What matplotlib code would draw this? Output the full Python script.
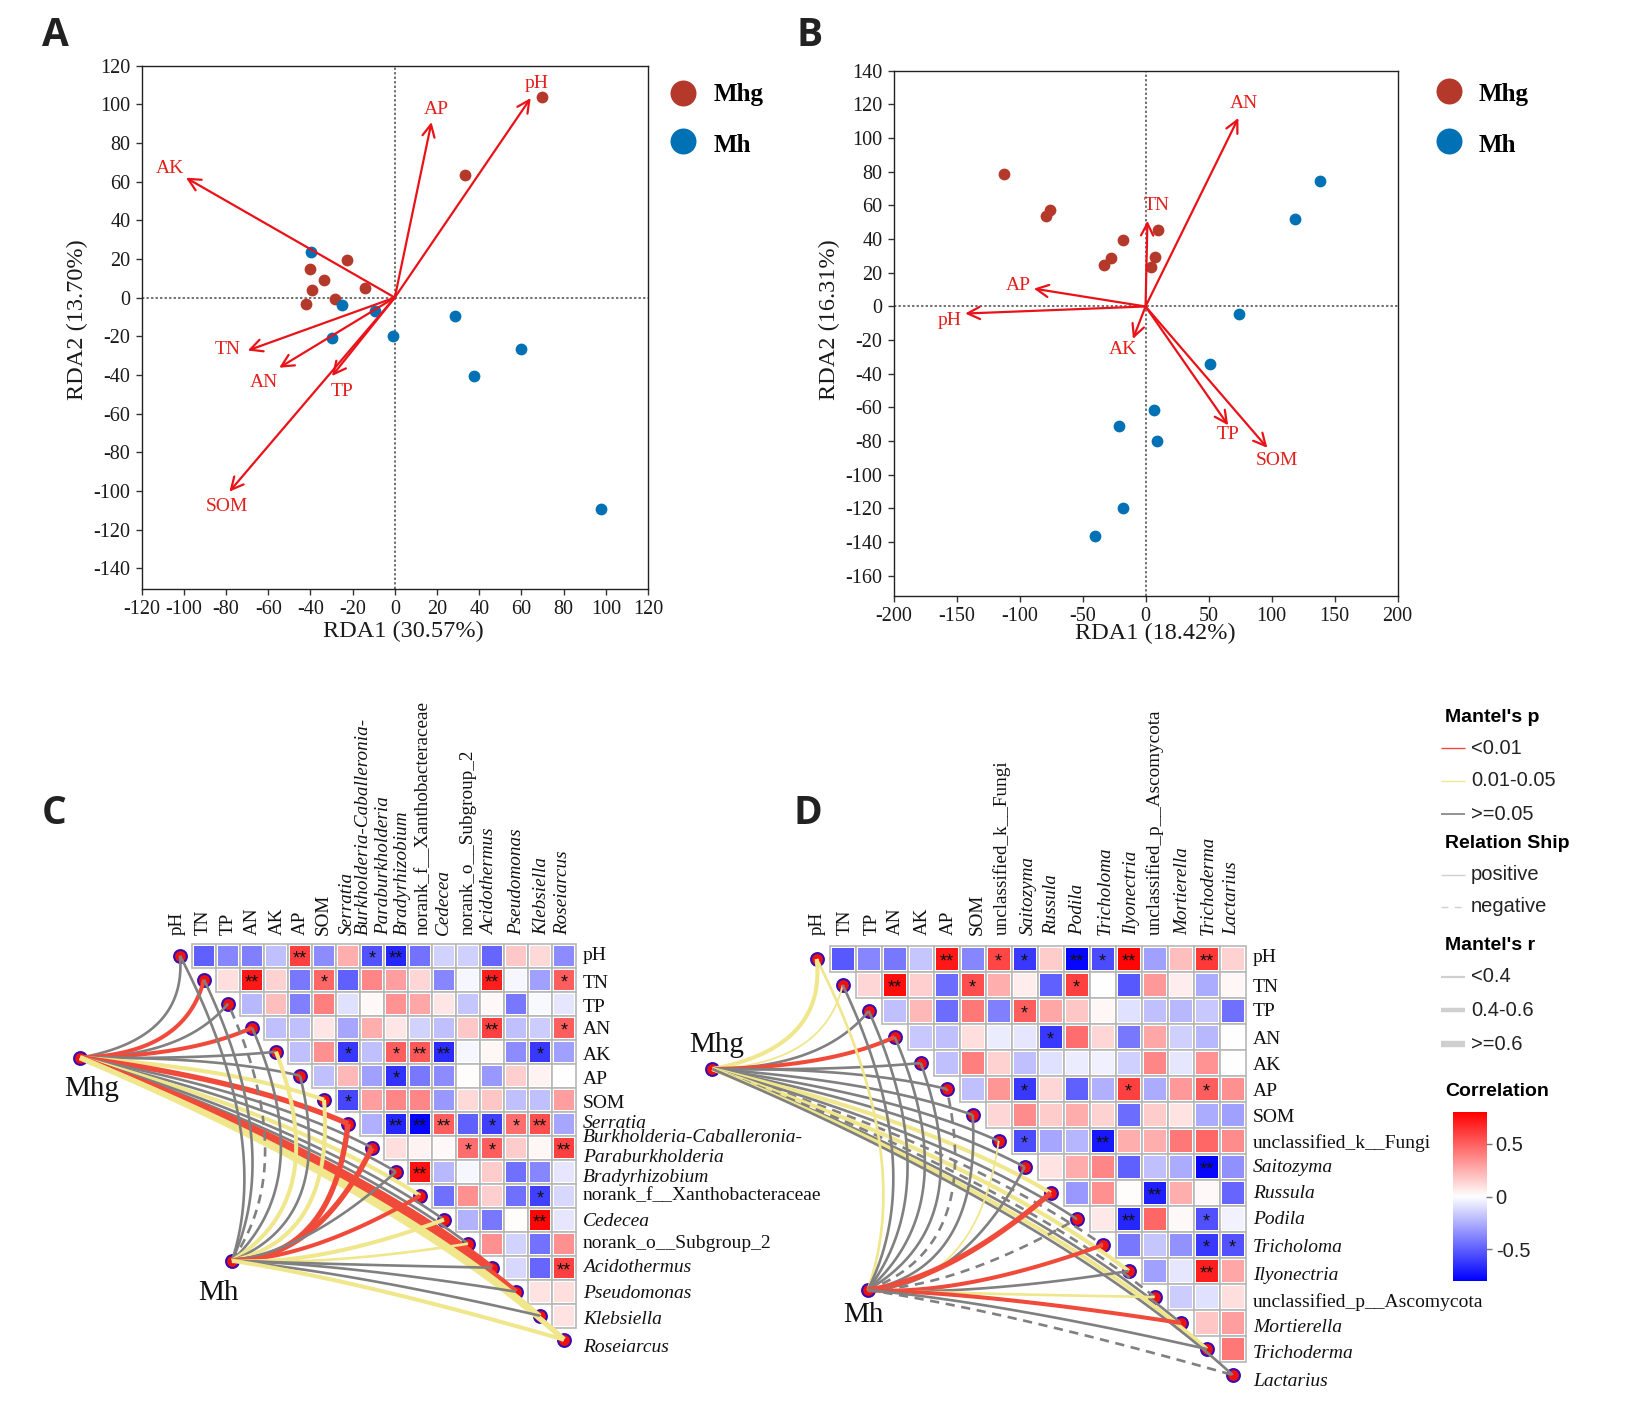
import numpy as np
import matplotlib
import matplotlib.pyplot as plt
from matplotlib.colors import LinearSegmentedColormap, Normalize
from matplotlib.patches import Rectangle

matplotlib.use('agg')
plt.rcParams['font.family'] = ['Liberation Serif', 'DejaVu Serif']
plt.rcParams['axes.unicode_minus'] = False

W, H = 1633, 1418

# RDA panel A
a_mhg_x = [69.7, 33.5, -22.7, -40.0, -33.7, -14.2, -39.4, -28.2, -42.2]
a_mhg_y = [103.6, 63.2, 19.2, 14.7, 9.0, 5.1, 3.8, -0.6, -3.2]
a_mh_x = [-39.7, -25.2, -9.6, -29.8, -0.7, 28.7, 60.0, 37.4, 97.5]
a_mh_y = [23.7, -4.1, -6.8, -20.9, -19.7, -9.4, -26.5, -40.8, -109.4]
a_env = ['pH', 'AP', 'AK', 'TN', 'AN', 'TP', 'SOM']
a_env_x = [64.4, 17.4, -99.0, -69.7, -54.8, -29.8, -78.4]
a_env_y = [103.2, 90.8, 62.0, -27.4, -36.3, -40.6, -100.4]
a_env_lx = [67.1, 19.7, -106.4, -79.0, -62.0, -25.0, -79.4]
a_env_ly = [110.5, 97.2, 66.9, -27.0, -43.8, -48.5, -108.0]

# RDA panel B
b_mhg_x = [-112.5, -75.6, -78.7, 10.0, -17.7, -27.3, -33.0, 7.3, 4.6]
b_mhg_y = [78.8, 57.5, 53.6, 45.7, 39.3, 28.9, 24.9, 29.1, 23.7]
b_mh_x = [138.6, 118.6, 74.5, 51.4, 6.5, -21.1, 9.2, -17.7, -40.3]
b_mh_y = [74.8, 52.1, -4.4, -34.1, -61.7, -71.1, -80.2, -120.0, -136.3]
b_env = ['AN', 'TN', 'AP', 'pH', 'AK', 'TP', 'SOM']
b_env_x = [73.7, 1.5, -88.7, -143.2, -10.0, 65.6, 96.7]
b_env_y = [112.0, 50.9, 10.6, -4.2, -19.3, -70.6, -84.0]
b_env_lx = [78.0, 9.2, -101.0, -155.5, -18.0, 65.3, 104.4]
b_env_ly = [120.7, 59.8, 12.6, -8.4, -25.7, -76.3, -91.6]

# correlation triangles, row i holds the columns i..15
c_corr = [
    [-.50, -.38, -.40, -.20, .60, -.36, .25, -.54, -.68, -.44, -.14, -.15, -.48, .17, .12, -.36],
    [.10, .72, .14, -.42, .48, -.50, .38, .30, .13, -.38, -.03, .70, -.03, -.30, .50],
    [-.22, .20, -.40, .40, -.10, .02, .34, .28, .08, -.18, .02, -.42, -.02, -.08],
    [-.20, -.20, .08, -.28, .25, .08, -.14, -.20, .17, .60, -.20, -.16, .50],
    [-.20, .35, -.62, -.20, .50, .52, -.66, -.03, .03, -.36, -.62, -.30],
    [-.20, .22, -.30, -.64, -.42, -.36, .01, -.32, .15, .04, .00],
    [-.58, .30, .38, .38, -.32, .12, .18, -.20, -.20, .30],
    [-.25, -.68, -.78, .50, -.50, -.60, .45, .55, -.28],
    [.10, .04, .02, .45, .50, .16, .03, .60],
    [.74, -.22, -.03, .16, -.45, -.38, -.08],
    [-.45, .35, .15, -.45, -.60, -.12],
    [-.24, -.42, .01, .78, -.08],
    [.35, -.14, -.44, .35],
    [-.12, -.48, .60],
    [.09, .10],
    [.09],
]
c_stars = {(0, 4): '**', (0, 7): '*', (0, 8): '**', (1, 2): '**', (1, 5): '*', (1, 12): '**',
           (1, 15): '*', (3, 12): '**', (3, 15): '*', (4, 6): '*', (4, 8): '*', (4, 9): '**',
           (4, 10): '**', (4, 14): '*', (5, 8): '*', (6, 6): '*', (7, 8): '**', (7, 9): '**',
           (7, 10): '**', (7, 12): '*', (7, 13): '*', (7, 14): '**', (8, 11): '*', (8, 12): '*',
           (8, 15): '**', (9, 9): '**', (10, 14): '*', (11, 14): '**', (13, 15): '**'}

d_corr = [
    [-.52, -.38, -.42, -.18, .72, -.38, .58, -.62, .16, -.78, -.56, .78, -.30, .20, .62, .14],
    [.13, .76, .15, -.46, .55, .25, .06, -.50, .60, .00, -.52, .32, .06, -.26, .03],
    [-.20, .22, -.46, .42, -.40, .50, .28, .18, .03, -.10, -.20, -.22, -.17, -.45],
    [-.17, -.20, .10, -.06, -.08, -.62, .45, .13, -.42, .28, -.15, -.22, .00],
    [-.20, .40, .14, -.20, -.10, -.06, -.05, -.15, .38, -.08, .34, .00],
    [-.20, .33, -.62, .13, -.50, -.25, .60, -.26, .32, .50, .35],
    [.13, .36, .16, .26, .14, -.46, .16, .09, -.26, -.30],
    [-.56, -.28, -.23, -.72, .25, .25, .42, .48, .36],
    [.09, .26, .38, -.50, -.20, -.26, -.78, -.35],
    [-.32, .35, .01, -.70, .25, .02, -.48],
    [.07, -.68, .48, .02, -.55, -.04],
    [-.42, -.18, -.34, -.62, -.54],
    [-.30, -.08, .70, .28],
    [-.16, -.10, .10],
    [.18, .30],
    [.42],
]
d_stars = {(0, 4): '**', (0, 6): '*', (0, 7): '*', (0, 9): '**', (0, 10): '*', (0, 11): '**',
           (0, 14): '**', (1, 2): '**', (1, 5): '*', (1, 9): '*', (2, 7): '*', (3, 8): '*',
           (5, 7): '*', (5, 11): '*', (5, 14): '*', (7, 7): '*', (7, 10): '**', (8, 14): '**',
           (9, 12): '**', (10, 11): '**', (10, 14): '*', (11, 14): '*', (11, 15): '*',
           (12, 14): '**'}

# Mantel links, one entry per variable: p class, r class, dashed when negative
c_mhg_p = ['g', 'r', 'g', 'r', 'g', 'g', 'y', 'r', 'g', 'g', 'y', 'g', 'g', 'r', 'r', 'y', 'y']
c_mhg_r = [1, 2, 1, 2, 1, 1, 2, 3, 1, 1, 2, 1, 1, 3, 3, 2, 3]
c_mhg_neg = []
c_mh_p = ['g', 'g', 'g', 'g', 'y', 'g', 'y', 'r', 'r', 'g', 'r', 'y', 'y', 'g', 'g', 'g', 'y']
c_mh_r = [1, 1, 1, 1, 2, 1, 2, 3, 3, 1, 2, 2, 1, 1, 1, 1, 2]
c_mh_neg = [2]
d_mhg_p = ['y', 'y', 'g', 'r', 'g', 'g', 'g', 'g', 'g', 'y', 'g', 'g', 'y', 'g', 'g', 'y', 'g']
d_mhg_r = [2, 0, 1, 2, 1, 1, 1, 1, 1, 2, 1, 1, 2, 1, 1, 2, 1]
d_mhg_neg = [11, 13]
d_mh_p = ['y', 'g', 'g', 'g', 'g', 'g', 'g', 'y', 'g', 'r', 'g', 'r', 'g', 'y', 'r', 'g', 'g']
d_mh_r = [1, 1, 1, 1, 1, 1, 1, 0, 1, 3, 1, 2, 1, 1, 2, 1, 1]
d_mh_neg = [5, 10, 16]

c_labels = ['pH', 'TN', 'TP', 'AN', 'AK', 'AP', 'SOM', 'Serratia', 'Burkholderia-Caballeronia-',
            'Paraburkholderia', 'Bradyrhizobium', 'norank_f__Xanthobacteraceae', 'Cedecea',
            'norank_o__Subgroup_2', 'Acidothermus', 'Pseudomonas', 'Klebsiella', 'Roseiarcus']
c_italic = ['Serratia', 'Burkholderia-Caballeronia-', 'Paraburkholderia', 'Bradyrhizobium',
            'Cedecea', 'Acidothermus', 'Pseudomonas', 'Klebsiella', 'Roseiarcus']
d_labels = ['pH', 'TN', 'TP', 'AN', 'AK', 'AP', 'SOM', 'unclassified_k__Fungi', 'Saitozyma',
            'Russula', 'Podila', 'Tricholoma', 'Ilyonectria', 'unclassified_p__Ascomycota',
            'Mortierella', 'Trichoderma', 'Lactarius']
d_italic = ['Saitozyma', 'Russula', 'Podila', 'Tricholoma', 'Ilyonectria', 'Mortierella',
            'Trichoderma', 'Lactarius']

# label placement on the page, hand placed like the rest of the figure
c_col_x = [177, 203, 228, 252, 277, 300, 323, 347, 363, 384, 402, 423, 443, 468, 490, 517, 542, 563]
c_row_y = [956, 984, 1007, 1030, 1055, 1079, 1103, 1123, 1138, 1158, 1178, 1196, 1221, 1244, 1268,
           1294, 1320, 1348]
d_col_x = [817, 845, 872, 895, 922, 948, 977, 1002, 1028, 1052, 1078, 1105, 1132, 1155, 1183, 1208,
           1232]
d_row_y = [958, 987, 1011, 1039, 1066, 1091, 1118, 1143, 1168, 1194, 1220, 1248, 1275, 1302, 1327,
           1353, 1381]

link_colors = {'r': '#F04A3A', 'y': '#F0E68C', 'g': '#808080'}
link_widths = [1.3, 1.9, 2.9, 3.9]
cmap = LinearSegmentedColormap.from_list('corr', ['#0000FF', '#FFFFFF', '#FF0000'])
norm = Normalize(-0.8, 0.8)

# bend of the links against the direction of the chord
mhg_angle = [-31, -5, 2, 10, 20, 32, 47]
mhg_bend = [-.08, -.06, .03, .10, .22, .36, .45]
mh_angle = [-15, -6, -2, 4, 11, 19, 28, 39, 50, 60, 70, 78, 85, 90, 96, 101]
mh_bend = [-.03, -.03, 0, .05, .10, .12, .14, .29, .42, .42, .42, .40, .34, .28, .22, .19]

fig = plt.figure(figsize=(W / 100, H / 100), dpi=100, facecolor='white')
page = fig.add_axes([0, 0, 1, 1])
page.set_xlim(0, W)
page.set_ylim(H, 0)
page.axis('off')


def px_axes(left, top, right, bottom):
  return fig.add_axes([left / W, 1 - bottom / H, (right - left) / W, (bottom - top) / H])


def draw_rda(ax, mhg, mh, env, xlim, ylim, xticks, yticks, xlabel, ylabel, xl_pos, yl_pos):
  ax.set_xlim(*xlim)
  ax.set_ylim(*ylim)
  ax.set_xticks(xticks)
  ax.set_yticks(yticks)
  ax.tick_params(labelsize=14.5, length=4, width=1, pad=4, color='#333333', labelcolor='#1a1a1a',
                 labelfontfamily='Liberation Serif')
  for s in ax.spines.values():
    s.set_linewidth(1)
    s.set_color('#222222')
  ax.axhline(0, color='#666666', lw=1.3, dashes=(1.3, 1.2), zorder=1)
  ax.axvline(0, color='#666666', lw=1.3, dashes=(1.3, 1.2), zorder=1)
  ax.scatter(mhg[0], mhg[1], s=72, color='#B5392A', linewidths=0, zorder=3)
  ax.scatter(mh[0], mh[1], s=72, color='#0071B5', linewidths=0, zorder=3)
  for name, x, y, lx, ly in zip(*env):
    ax.annotate('', xy=(x, y), xytext=(0, 0),
                arrowprops=dict(arrowstyle='->', color='#EA1218', lw=1.6, mutation_scale=22,
                                shrinkA=0, shrinkB=0), zorder=4)
    ax.text(lx, ly, name, color='#E3201C', fontsize=14, ha='center', va='center', zorder=5)
  ax.set_xlabel(xlabel, fontsize=17.5, color='#1a1a1a')
  ax.set_ylabel(ylabel, fontsize=17.5, color='#1a1a1a')
  ax.xaxis.set_label_coords(*xl_pos)
  ax.yaxis.set_label_coords(*yl_pos)
  ax.xaxis.label.set_va('center')
  ax.yaxis.label.set_va('center')


ax_a = px_axes(141.6, 65.6, 648, 588.5)
draw_rda(ax_a, (a_mhg_x, a_mhg_y), (a_mh_x, a_mh_y),
         (a_env, a_env_x, a_env_y, a_env_lx, a_env_ly),
         (-120, 120), (-150.5, 120), np.arange(-120, 121, 20), np.arange(-140, 121, 20),
         'RDA1 (30.57%)', 'RDA2 (13.70%)', (0.516, -0.082), (-0.127, 0.515))

ax_b = px_axes(893.6, 70.8, 1397.5, 596)
draw_rda(ax_b, (b_mhg_x, b_mhg_y), (b_mh_x, b_mh_y),
         (b_env, b_env_x, b_env_y, b_env_lx, b_env_ly),
         (-200, 200), (-172, 140), np.arange(-200, 201, 50), np.arange(-160, 141, 20),
         'RDA1 (18.42%)', 'RDA2 (16.31%)', (0.519, -0.072), (-0.128, 0.527))

# panel letters and the group keys next to the RDA plots
for letter, x, y in [('A', 55, 35), ('B', 810, 35), ('C', 54, 814), ('D', 808, 814)]:
  page.text(x, y, letter, family='Open Sans', weight='bold', fontsize=28, color='#222222',
            ha='center', va='center')
for x0, tx, ys, text_ys in [(683, 714, (93, 141), (95, 145)), (1449, 1479, (91, 141), (94, 145))]:
  for name, col, y, ty in zip(['Mhg', 'Mh'], ['#B5392A', '#0071B5'], ys, text_ys):
    page.scatter([x0], [y], s=350, color=col, linewidths=0)
    page.text(tx, ty, name, fontsize=18, weight='bold', ha='left', va='center')


def draw_link(hub, node, p, r, neg, angles, bends, along):
  d = np.array(node) - np.array(hub)
  bend = np.interp(np.degrees(np.arctan2(-d[1], d[0])), angles, bends)
  ctrl = np.array(hub) + along * d + bend * np.array([-d[1], d[0]])
  t = np.linspace(0, 1, 80)[:, None]
  pts = (1 - t) ** 2 * np.array(hub) + 2 * t * (1 - t) * ctrl + t ** 2 * np.array(node)
  line, = page.plot(pts[:, 0], pts[:, 1], color=link_colors[p], lw=link_widths[r], zorder=4,
                    solid_capstyle='butt')
  if neg:
    line.set_dashes((3.5, 2.5))


def draw_mantel(corr, stars, x0, y0, pitch, labels, italic, col_x, col_y, row_x, row_y,
                hub_mhg, hub_mh, mhg_links, mh_links, hub_text):
  n = len(corr)
  inner = pitch - 4
  for i, row in enumerate(corr):
    for k, v in enumerate(row):
      j = i + k
      cx = x0 + pitch * (j + 1)
      cy = y0 + pitch * i
      page.add_patch(Rectangle((cx - pitch / 2, cy - pitch / 2), pitch, pitch, fc='white',
                               ec='#B8B8B8', lw=1.2, zorder=2))
      page.add_patch(Rectangle((cx - inner / 2, cy - inner / 2), inner, inner,
                               fc=cmap(norm(v)), ec='none', zorder=2.5))
      if (i, j) in stars:
        page.text(cx, cy + 3, stars[(i, j)], family='Liberation Sans', fontsize=13, color='#111111',
                  ha='center', va='center', zorder=3)
  nodes = [(x0 + pitch * i, y0 + pitch * i) for i in range(n + 1)]
  for hub, links, angles, bends, along in [(hub_mhg, mhg_links, mhg_angle, mhg_bend, 0.62),
                                           (hub_mh, mh_links, mh_angle, mh_bend, 0.38)]:
    for i, node in enumerate(nodes):
      draw_link(hub, node, links[0][i], links[1][i], i in links[2], angles, bends, along)
  xs, ys = zip(*(nodes + [hub_mhg, hub_mh]))
  page.scatter(xs, ys, s=85, color='#EE1111', edgecolors='#3A0CB0', linewidths=1.5, zorder=3.5)
  for name, x in zip(labels, col_x):
    page.text(x, col_y, name, rotation=90, fontsize=13.8, ha='center', va='bottom',
              style='italic' if name in italic else 'normal', color='#111111')
  for name, y in zip(labels, row_y):
    page.text(row_x, y, name, fontsize=14, ha='left', va='center',
              style='italic' if name in italic else 'normal', color='#111111')
  for name, pos in zip(['Mhg', 'Mh'], hub_text):
    page.text(pos[0], pos[1], name, fontsize=21, ha='center', va='center', color='#111111')


draw_mantel(c_corr, c_stars, 180, 955.7, 24, c_labels, c_italic, c_col_x, 935, 583, c_row_y,
            (80, 1057.7), (232, 1260.7), (c_mhg_p, c_mhg_r, c_mhg_neg), (c_mh_p, c_mh_r, c_mh_neg),
            [(92, 1089), (218, 1293)])
draw_mantel(d_corr, d_stars, 816.7, 959, 26, d_labels, d_italic, d_col_x, 935, 1253, d_row_y,
            (712.3, 1069), (867.7, 1290), (d_mhg_p, d_mhg_r, d_mhg_neg), (d_mh_p, d_mh_r, d_mh_neg),
            [(717, 1045), (863, 1315)])

# legend for the Mantel links
sans = 'Liberation Sans'
for title, y in [("Mantel's p", 718), ('Relation Ship', 844), ("Mantel's r", 946), ('Correlation', 1091)]:
  page.text(1445, y, title, family=sans, weight='bold', fontsize=14, ha='left', va='center')
key_entries = [('<0.01', 748, '#F04A3A', 1.0, None), ('0.01-0.05', 781, '#F0E68C', 1.0, None),
               ('>=0.05', 814, '#808080', 1.2, None), ('positive', 875, '#D0D0D0', 1.0, None),
               ('negative', 907, '#D0D0D0', 1.0, (5, 4.5)), ('<0.4', 977, '#CFCFCF', 1.6, None),
               ('0.4-0.6', 1010, '#CFCFCF', 3.2, None), ('>=0.6', 1044, '#CFCFCF', 4.6, None)]
for name, y, col, lw, dashes in key_entries:
  key, = page.plot([1441, 1465], [y, y], color=col, lw=lw, solid_capstyle='butt')
  if dashes:
    key.set_dashes(dashes)
  page.text(1471, y, name, family=sans, fontsize=14.5, color='#222222', ha='left', va='center')

cax = px_axes(1452.7, 1112, 1486, 1281)
grad = np.linspace(0.8, -0.8, 256)[:, None]
cax.imshow(grad, cmap=cmap, norm=norm, aspect='auto', extent=(0, 1, -0.8, 0.8))
cax.set_xticks([])
cax.set_yticks([-0.5, 0, 0.5], ['-0.5', '0', '0.5'], family=sans)
cax.yaxis.tick_right()
cax.tick_params(axis='y', length=4, width=1, color='#777777', labelsize=14.5, pad=3,
                labelcolor='#222222')
for s in cax.spines.values():
  s.set_visible(False)

fig.savefig('out.png', dpi=100, facecolor='white')
plt.close(fig)
